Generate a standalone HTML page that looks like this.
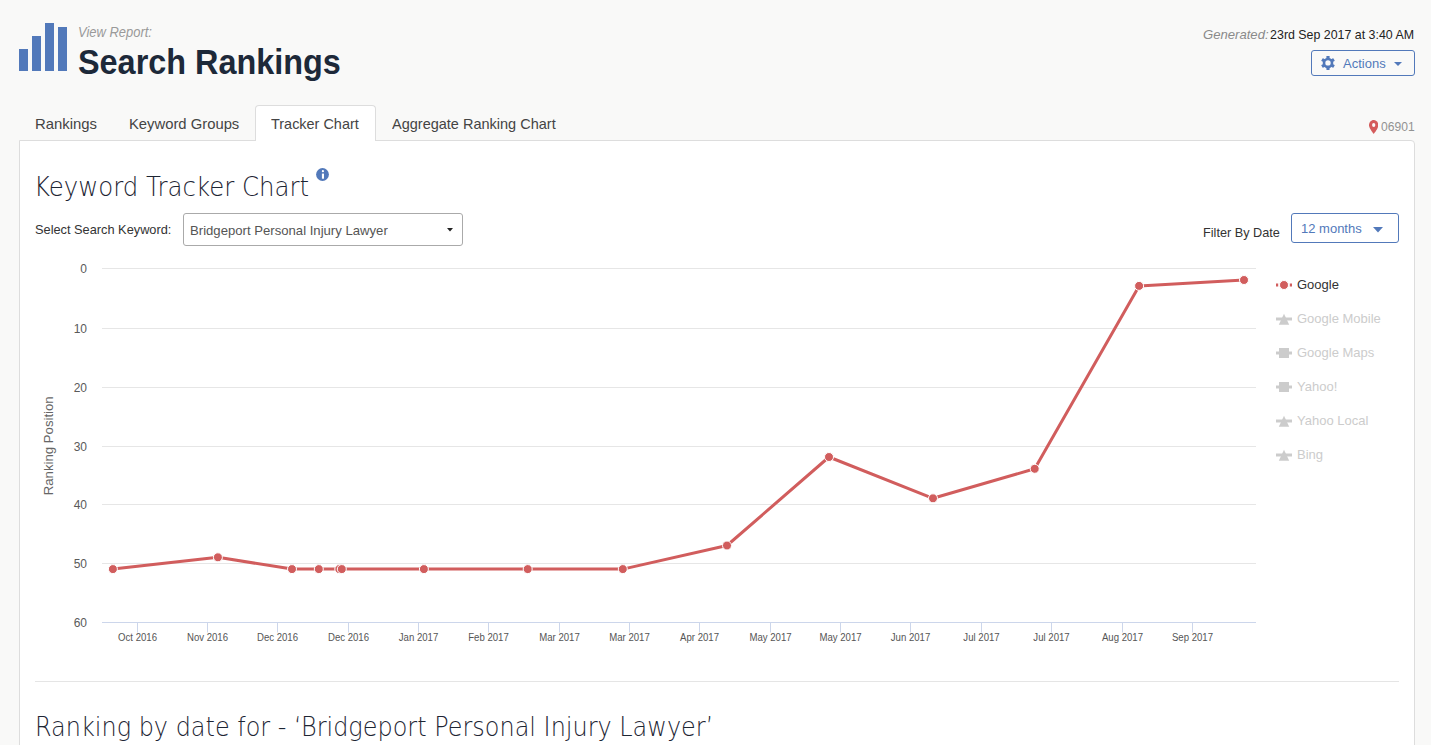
<!DOCTYPE html>
<html lang="en">
<head>
<meta charset="utf-8">
<title>Search Rankings - Tracker Chart</title>
<style>
  html, body { margin: 0; padding: 0; }
  body { width: 1431px; height: 745px; overflow: hidden; position: relative;
         background: #f9f9f8; font-family: "Liberation Sans", Arial, sans-serif; color: #333; }
  .abs { position: absolute; white-space: nowrap; line-height: 1; }
  .logo span { position: absolute; background: #5279ba; width: 9px; }
  #viewrep { left: 78px; top: 24.6px; font-size: 14.9px; transform: scaleX(0.87); transform-origin: 0 0; font-style: italic; color: #9a9a9a; }
  #title { left: 78px; top: 43.6px; font-size: 35px; transform: scaleX(0.9254); transform-origin: 0 0; font-weight: bold; color: #1d2939; }
  #gen { right: 16.5px; top: 28px; font-size: 13px; transform: scaleX(0.953); transform-origin: 100% 0; color: #222; }
  #geni { left: 1202.8px; top: 28px; font-size: 13px; font-style: italic; transform: scaleX(1.008); transform-origin: 0 0; color: #8a8a8a; }
  #actions { left: 1311px; top: 50px; width: 102px; height: 24px; border: 1px solid #5279ba; border-radius: 3px; }
  #actions .t { position: absolute; left: 31px; top: 6px; font-size: 13px; color: #5279ba; }
  .tab { position: absolute; top: 115.5px; white-space: nowrap; line-height: 1; transform-origin: 0 0; font-size: 15px; color: #444; }
  #tabact { left: 255px; top: 105px; width: 119px; height: 36px; background: #fff; border: 1px solid #ddd; border-bottom: none; border-radius: 4px 4px 0 0; box-sizing: border-box; width: 121px; }
  #panel { left: 19px; top: 140px; width: 1396px; height: 700px; background: #fff; border: 1px solid #ddd; border-radius: 0 4px 0 0; box-sizing: border-box; }
  #zip { left: 1381px; top: 120px; transform: scaleX(0.93); transform-origin: 0 0; font-size: 13px; color: #929292; }
  #kth { left: 33.8px; top: 172.6px; font-size: 27.4px; font-family: 'DejaVu Sans', sans-serif; font-weight: 200; color: #1d2533; transform: scaleX(0.892); transform-origin: 0 0; }
  #ssk { left: 35px; top: 223px; font-size: 13px; transform: scaleX(0.983); transform-origin: 0 0; color: #333; }
  #sel { left: 183px; top: 213px; width: 280px; height: 33px; border: 1px solid #aaa; border-radius: 3px; box-sizing: border-box; background: #fff; }
  #sel .t { position: absolute; left: 6px; top: 9.6px; transform: scaleX(1.01); transform-origin: 0 0; font-size: 13px; color: #555; }
  #fbd { left: 1203px; top: 226px; transform: scaleX(0.977); transform-origin: 0 0; font-size: 13px; color: #333; }
  #mon { left: 1291px; top: 213px; width: 108px; height: 30px; border: 1px solid #5279ba; border-radius: 3px; box-sizing: border-box; background: #fff; }
  #mon .t { position: absolute; left: 9px; top: 8px; font-size: 13px; color: #5279ba; }
  #divider { left: 35px; top: 681px; width: 1364px; height: 1px; background: #e5e5e5; }
  #rbd { left: 35.2px; top: 713px; font-size: 27.4px; font-family: 'DejaVu Sans', sans-serif; font-weight: 200; color: #1d2533; transform: scaleX(0.8744); transform-origin: 0 0; }
  .chart { position: absolute; left: 0; top: 0; }
  .chart text { font-family: "Liberation Sans", Arial, sans-serif; }
  .xl { font-size: 10px; fill: #555; }
  .yl { font-size: 12px; fill: #5a5a5a; }
  .yt { font-size: 12.5px; fill: #666; }
  .lg { font-size: 13px; }
</style>
</head>
<body>
  <div class="logo">
    <span style="left:19px; top:49px; height:22px;"></span>
    <span style="left:32px; top:36px; height:35px;"></span>
    <span style="left:45px; top:23px; height:48px;"></span>
    <span style="left:58px; top:27px; height:44px;"></span>
  </div>
  <div class="abs" id="viewrep">View Report:</div>
  <div class="abs" id="title">Search Rankings</div>
  <div class="abs" id="geni">Generated:</div>
  <div class="abs" id="gen">23rd Sep 2017 at 3:40 AM</div>
  <div class="abs" id="actions">
    <svg style="position:absolute; left:9px; top:5px" width="14" height="14" viewBox="0 0 14 14">
      <g fill="#5279ba">
        <circle cx="7" cy="7" r="5.3"/>
        <rect x="5.4" y="0" width="3.2" height="14" rx="0.4"/>
        <rect x="5.4" y="0" width="3.2" height="14" rx="0.4" transform="rotate(60 7 7)"/>
        <rect x="5.4" y="0" width="3.2" height="14" rx="0.4" transform="rotate(120 7 7)"/>
      </g>
      <circle cx="7" cy="6.9" r="2.7" fill="#f9f9f8"/>
    </svg>
    <span class="t">Actions</span>
    <svg style="position:absolute; left:82px; top:11px" width="8" height="4" viewBox="0 0 8 4"><path d="M0 0 L8 0 L4 4 Z" fill="#5279ba"/></svg>
  </div>

  <div class="abs" id="panel"></div>
  <div class="abs" id="tabact"></div>
  <div class="tab" id="tab1" style="left:35px; transform:scaleX(0.992)">Rankings</div>
  <div class="tab" id="tab2" style="left:128.5px; transform:scaleX(0.987)">Keyword Groups</div>
  <div class="tab" id="tab3" style="left:271.2px; transform:scaleX(0.963)">Tracker Chart</div>
  <div class="tab" id="tab4" style="left:392.3px; transform:scaleX(0.967)">Aggregate Ranking Chart</div>

  <svg class="abs" style="left:1368.7px; top:120px" width="9.4" height="14" viewBox="0 0 11 14" preserveAspectRatio="none">
    <path d="M5.5 0 C2.4 0 0 2.4 0 5.2 C0 8.2 5.5 14 5.5 14 C5.5 14 11 8.2 11 5.2 C11 2.4 8.6 0 5.5 0 Z" fill="#d45c5c"/>
    <circle cx="5.5" cy="5" r="1.9" fill="#f9f9f8"/>
  </svg>
  <div class="abs" id="zip">06901</div>

  <div class="abs" id="kth">Keyword Tracker Chart</div>
  <svg class="abs" style="left:316px; top:168px" width="13" height="13" viewBox="0 0 13 13">
    <circle cx="6.5" cy="6.5" r="6.4" fill="#5279ba"/>
    <circle cx="6.9" cy="3.2" r="1.1" fill="#fff"/>
    <rect x="5.9" y="5.6" width="2.1" height="5.1" fill="#fff"/>
  </svg>

  <div class="abs" id="ssk">Select Search Keyword:</div>
  <div class="abs" id="sel"><span class="t">Bridgeport Personal Injury Lawyer</span>
    <svg style="position:absolute; left:263px; top:14px" width="6" height="4" viewBox="0 0 6 4"><path d="M0 0 L6 0 L3 3.5 Z" fill="#222"/></svg>
  </div>
  <div class="abs" id="fbd">Filter By Date</div>
  <div class="abs" id="mon"><span class="t">12 months</span>
    <svg style="position:absolute; left:81px; top:13px" width="10" height="6" viewBox="0 0 10 6"><path d="M0 0 L10 0 L5 5.5 Z" fill="#5279ba"/></svg>
  </div>

<svg id="chart" class="chart" width="1431" height="745" viewBox="0 0 1431 745">
<path d="M 102 268.5 L 1256 268.5" stroke="#e6e6e6" stroke-width="1" fill="none"/>
<path d="M 102 328.5 L 1256 328.5" stroke="#e6e6e6" stroke-width="1" fill="none"/>
<path d="M 102 387.5 L 1256 387.5" stroke="#e6e6e6" stroke-width="1" fill="none"/>
<path d="M 102 446.5 L 1256 446.5" stroke="#e6e6e6" stroke-width="1" fill="none"/>
<path d="M 102 504.5 L 1256 504.5" stroke="#e6e6e6" stroke-width="1" fill="none"/>
<path d="M 102 563.5 L 1256 563.5" stroke="#e6e6e6" stroke-width="1" fill="none"/>
<path d="M 102 622.5 L 1256 622.5" stroke="#ccd6eb" stroke-width="1" fill="none"/>
<path d="M 137.5 622.5 L 137.5 632.5" stroke="#ccd6eb" stroke-width="1" fill="none"/>
<text transform="translate(137.5,641) scale(0.96,1)" text-anchor="middle" class="xl">Oct 2016</text>
<path d="M 207.5 622.5 L 207.5 632.5" stroke="#ccd6eb" stroke-width="1" fill="none"/>
<text transform="translate(207.5,641) scale(0.96,1)" text-anchor="middle" class="xl">Nov 2016</text>
<path d="M 277.5 622.5 L 277.5 632.5" stroke="#ccd6eb" stroke-width="1" fill="none"/>
<text transform="translate(277.5,641) scale(0.96,1)" text-anchor="middle" class="xl">Dec 2016</text>
<path d="M 348.5 622.5 L 348.5 632.5" stroke="#ccd6eb" stroke-width="1" fill="none"/>
<text transform="translate(348.5,641) scale(0.96,1)" text-anchor="middle" class="xl">Dec 2016</text>
<path d="M 418.5 622.5 L 418.5 632.5" stroke="#ccd6eb" stroke-width="1" fill="none"/>
<text transform="translate(418.5,641) scale(0.96,1)" text-anchor="middle" class="xl">Jan 2017</text>
<path d="M 488.5 622.5 L 488.5 632.5" stroke="#ccd6eb" stroke-width="1" fill="none"/>
<text transform="translate(488.5,641) scale(0.96,1)" text-anchor="middle" class="xl">Feb 2017</text>
<path d="M 559.5 622.5 L 559.5 632.5" stroke="#ccd6eb" stroke-width="1" fill="none"/>
<text transform="translate(559.5,641) scale(0.96,1)" text-anchor="middle" class="xl">Mar 2017</text>
<path d="M 629.5 622.5 L 629.5 632.5" stroke="#ccd6eb" stroke-width="1" fill="none"/>
<text transform="translate(629.5,641) scale(0.96,1)" text-anchor="middle" class="xl">Mar 2017</text>
<path d="M 699.5 622.5 L 699.5 632.5" stroke="#ccd6eb" stroke-width="1" fill="none"/>
<text transform="translate(699.5,641) scale(0.96,1)" text-anchor="middle" class="xl">Apr 2017</text>
<path d="M 770.5 622.5 L 770.5 632.5" stroke="#ccd6eb" stroke-width="1" fill="none"/>
<text transform="translate(770.5,641) scale(0.96,1)" text-anchor="middle" class="xl">May 2017</text>
<path d="M 840.5 622.5 L 840.5 632.5" stroke="#ccd6eb" stroke-width="1" fill="none"/>
<text transform="translate(840.5,641) scale(0.96,1)" text-anchor="middle" class="xl">May 2017</text>
<path d="M 910.5 622.5 L 910.5 632.5" stroke="#ccd6eb" stroke-width="1" fill="none"/>
<text transform="translate(910.5,641) scale(0.96,1)" text-anchor="middle" class="xl">Jun 2017</text>
<path d="M 981.5 622.5 L 981.5 632.5" stroke="#ccd6eb" stroke-width="1" fill="none"/>
<text transform="translate(981.5,641) scale(0.96,1)" text-anchor="middle" class="xl">Jul 2017</text>
<path d="M 1051.5 622.5 L 1051.5 632.5" stroke="#ccd6eb" stroke-width="1" fill="none"/>
<text transform="translate(1051.5,641) scale(0.96,1)" text-anchor="middle" class="xl">Jul 2017</text>
<path d="M 1122.5 622.5 L 1122.5 632.5" stroke="#ccd6eb" stroke-width="1" fill="none"/>
<text transform="translate(1122.5,641) scale(0.96,1)" text-anchor="middle" class="xl">Aug 2017</text>
<path d="M 1192.5 622.5 L 1192.5 632.5" stroke="#ccd6eb" stroke-width="1" fill="none"/>
<text transform="translate(1192.5,641) scale(0.96,1)" text-anchor="middle" class="xl">Sep 2017</text>
<text x="87" y="273.0" text-anchor="end" class="yl">0</text>
<text x="87" y="333.0" text-anchor="end" class="yl">10</text>
<text x="87" y="392.0" text-anchor="end" class="yl">20</text>
<text x="87" y="451.0" text-anchor="end" class="yl">30</text>
<text x="87" y="509.0" text-anchor="end" class="yl">40</text>
<text x="87" y="568.0" text-anchor="end" class="yl">50</text>
<text x="87" y="627.0" text-anchor="end" class="yl">60</text>
<text transform="translate(53,445.8) rotate(-90)" text-anchor="middle" class="yt" textLength="99" lengthAdjust="spacingAndGlyphs">Ranking Position</text>
<path d="M 112.9 569.1 L 217.9 557.3 L 292 569.1 L 318.8 569.1 L 339.3 569.1 L 341.8 569.1 L 423.9 569.1 L 527.7 569.1 L 622.8 569.1 L 727 545.5 L 829 457.0 L 933 498.3 L 1034.7 468.8 L 1139.1 285.9 L 1244 280.0" stroke="#d15d5d" stroke-width="3" fill="none" stroke-linejoin="round" stroke-linecap="round"/>
<circle cx="112.9" cy="569.1" r="4.5" fill="#d15d5d" stroke="#fff" stroke-width="1"/>
<circle cx="217.9" cy="557.3" r="4.5" fill="#d15d5d" stroke="#fff" stroke-width="1"/>
<circle cx="292" cy="569.1" r="4.5" fill="#d15d5d" stroke="#fff" stroke-width="1"/>
<circle cx="318.8" cy="569.1" r="4.5" fill="#d15d5d" stroke="#fff" stroke-width="1"/>
<circle cx="339.3" cy="569.1" r="4.5" fill="#d15d5d" stroke="#fff" stroke-width="1"/>
<circle cx="341.8" cy="569.1" r="4.5" fill="#d15d5d" stroke="#fff" stroke-width="1"/>
<circle cx="423.9" cy="569.1" r="4.5" fill="#d15d5d" stroke="#fff" stroke-width="1"/>
<circle cx="527.7" cy="569.1" r="4.5" fill="#d15d5d" stroke="#fff" stroke-width="1"/>
<circle cx="622.8" cy="569.1" r="4.5" fill="#d15d5d" stroke="#fff" stroke-width="1"/>
<circle cx="727" cy="545.5" r="4.5" fill="#d15d5d" stroke="#fff" stroke-width="1"/>
<circle cx="829" cy="457.0" r="4.5" fill="#d15d5d" stroke="#fff" stroke-width="1"/>
<circle cx="933" cy="498.3" r="4.5" fill="#d15d5d" stroke="#fff" stroke-width="1"/>
<circle cx="1034.7" cy="468.8" r="4.5" fill="#d15d5d" stroke="#fff" stroke-width="1"/>
<circle cx="1139.1" cy="285.9" r="4.5" fill="#d15d5d" stroke="#fff" stroke-width="1"/>
<circle cx="1244" cy="280.0" r="4.5" fill="#d15d5d" stroke="#fff" stroke-width="1"/>
<path d="M 1276 285 L 1292 285" stroke="#d15d5d" stroke-width="3" stroke-dasharray="2.2,11.6,2.2"/>
<circle cx="1284" cy="285" r="4.5" fill="#d15d5d" stroke="#fff" stroke-width="1"/>
<text x="1297" y="289" class="lg" fill="#333333">Google</text>
<path d="M 1276 319 L 1292 319" stroke="#cccccc" stroke-width="3"/>
<path d="M 1284 313.8 L 1289.2 324.8 L 1278.8 324.8 Z" fill="#cccccc"/>
<text x="1297" y="323" class="lg" fill="#cccccc">Google Mobile</text>
<path d="M 1276 353 L 1292 353" stroke="#cccccc" stroke-width="3"/>
<rect x="1279" y="348" width="10" height="10" fill="#cccccc"/>
<text x="1297" y="357" class="lg" fill="#cccccc">Google Maps</text>
<path d="M 1276 387 L 1292 387" stroke="#cccccc" stroke-width="3"/>
<rect x="1279" y="382" width="10" height="10" fill="#cccccc"/>
<text x="1297" y="391" class="lg" fill="#cccccc">Yahoo!</text>
<path d="M 1276 421 L 1292 421" stroke="#cccccc" stroke-width="3"/>
<path d="M 1284 415.8 L 1289.2 426.8 L 1278.8 426.8 Z" fill="#cccccc"/>
<text x="1297" y="425" class="lg" fill="#cccccc">Yahoo Local</text>
<path d="M 1276 455 L 1292 455" stroke="#cccccc" stroke-width="3"/>
<path d="M 1284 449.8 L 1289.2 460.8 L 1278.8 460.8 Z" fill="#cccccc"/>
<text x="1297" y="459" class="lg" fill="#cccccc">Bing</text>
</svg>

  <div class="abs" id="divider"></div>
  <div class="abs" id="rbd">Ranking by date for - ‘Bridgeport Personal Injury Lawyer’</div>
</body>
</html>
